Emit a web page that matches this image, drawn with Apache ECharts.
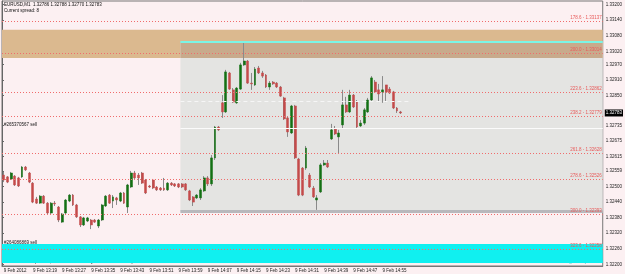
<!DOCTYPE html>
<html><head><meta charset="utf-8">
<script src="https://cdn.jsdelivr.net/npm/echarts@6/dist/echarts.min.js"></script>
<style>html,body{margin:0;padding:0;background:#fcf0f2}#c{width:625px;height:274px}</style>
</head><body><div id="c"></div>
<script>
// ---- data (EURUSD M1, 9 Feb 2012) ----
const opens  = [1.32544,1.32537,1.32529,1.32540,1.32533,1.32537,1.32575,1.32552,1.32513,1.32452,1.32436,1.32463,1.32436,1.32398,1.32436,1.32421,1.32363,1.32398,1.32444,1.32467,1.32429,1.32383,1.32352,1.32367,1.32371,1.32371,1.32348,1.32371,1.32425,1.32467,1.32444,1.32456,1.32444,1.32475,1.32421,1.32498,1.32552,1.32544,1.32552,1.32525,1.32502,1.32525,1.32498,1.32494,1.32494,1.32487,1.32513,1.32510,1.32510,1.32510,1.32510,1.32483,1.32460,1.32456,1.32456,1.32483,1.32533,1.32510,1.32610,1.32729,1.32822,1.32787,1.32937,1.32872,1.32822,1.32875,1.32968,1.32983,1.32898,1.32891,1.32956,1.32937,1.32929,1.32883,1.32902,1.32898,1.32883,1.32841,1.32764,1.32706,1.32810,1.32606,1.32571,1.32571,1.32544,1.32494,1.32448,1.32479,1.32583,1.32590,1.32683,1.32721,1.32691,1.32737,1.32814,1.32787,1.32852,1.32825,1.32733,1.32744,1.32787,1.32833,1.32902,1.32872,1.32864,1.32891,1.32875,1.32864,1.32802,1.32787];
const closes = [1.32525,1.32517,1.32552,1.32506,1.32502,1.32575,1.32564,1.32517,1.32440,1.32436,1.32463,1.32436,1.32398,1.32436,1.32433,1.32371,1.32394,1.32448,1.32467,1.32429,1.32383,1.32352,1.32379,1.32379,1.32352,1.32363,1.32371,1.32429,1.32463,1.32436,1.32460,1.32448,1.32475,1.32436,1.32506,1.32552,1.32533,1.32533,1.32513,1.32475,1.32498,1.32494,1.32487,1.32487,1.32487,1.32513,1.32506,1.32502,1.32498,1.32498,1.32487,1.32448,1.32440,1.32467,1.32487,1.32533,1.32510,1.32610,1.32729,1.32718,1.32787,1.32941,1.32875,1.32825,1.32879,1.32968,1.32983,1.32898,1.32895,1.32952,1.32937,1.32925,1.32883,1.32898,1.32895,1.32883,1.32848,1.32760,1.32710,1.32810,1.32610,1.32467,1.32467,1.32648,1.32498,1.32460,1.32456,1.32583,1.32590,1.32575,1.32718,1.32702,1.32706,1.32814,1.32787,1.32852,1.32806,1.32729,1.32744,1.32795,1.32833,1.32918,1.32864,1.32856,1.32872,1.32864,1.32860,1.32802,1.32791,1.32783];
const lows   = [1.32517,1.32513,1.32525,1.32502,1.32498,1.32533,1.32560,1.32513,1.32436,1.32433,1.32433,1.32433,1.32394,1.32394,1.32425,1.32363,1.32360,1.32394,1.32440,1.32425,1.32379,1.32344,1.32348,1.32363,1.32336,1.32360,1.32340,1.32367,1.32421,1.32433,1.32417,1.32429,1.32440,1.32433,1.32398,1.32494,1.32529,1.32506,1.32510,1.32471,1.32494,1.32490,1.32483,1.32483,1.32483,1.32483,1.32502,1.32498,1.32494,1.32494,1.32483,1.32444,1.32425,1.32452,1.32448,1.32479,1.32502,1.32502,1.32602,1.32714,1.32764,1.32783,1.32872,1.32822,1.32818,1.32872,1.32964,1.32895,1.32872,1.32887,1.32933,1.32918,1.32879,1.32872,1.32891,1.32879,1.32845,1.32756,1.32691,1.32702,1.32606,1.32463,1.32463,1.32564,1.32494,1.32456,1.32410,1.32475,1.32579,1.32571,1.32679,1.32698,1.32629,1.32725,1.32783,1.32783,1.32802,1.32725,1.32729,1.32737,1.32783,1.32829,1.32860,1.32825,1.32822,1.32825,1.32856,1.32798,1.32783,1.32779];
const highs  = [1.32556,1.32540,1.32556,1.32544,1.32537,1.32579,1.32579,1.32556,1.32517,1.32460,1.32467,1.32467,1.32440,1.32440,1.32444,1.32425,1.32398,1.32452,1.32471,1.32471,1.32433,1.32386,1.32383,1.32383,1.32375,1.32375,1.32375,1.32433,1.32467,1.32471,1.32467,1.32460,1.32479,1.32479,1.32510,1.32560,1.32560,1.32552,1.32556,1.32529,1.32506,1.32529,1.32502,1.32498,1.32533,1.32517,1.32517,1.32513,1.32513,1.32513,1.32513,1.32487,1.32463,1.32471,1.32494,1.32540,1.32540,1.32621,1.32733,1.32733,1.32852,1.32949,1.32941,1.32879,1.32883,1.32976,1.33053,1.32987,1.32937,1.32960,1.32964,1.32945,1.32933,1.32906,1.32906,1.32902,1.32887,1.32845,1.32768,1.32814,1.32814,1.32610,1.32575,1.32656,1.32552,1.32502,1.32467,1.32590,1.32602,1.32602,1.32741,1.32733,1.32718,1.32872,1.32845,1.32872,1.32856,1.32833,1.32756,1.32802,1.32841,1.32925,1.32910,1.32895,1.32925,1.32891,1.32883,1.32868,1.32806,1.32791];
const firstMinute = 13 * 60 + 11;        // first bar 13:11
const slotCount = 165;                   // visible bar slots incl. empty right margin
const xTickLabels = ["9 Feb 2012","9 Feb 13:19","9 Feb 13:27","9 Feb 13:35","9 Feb 13:43","9 Feb 13:51","9 Feb 13:59","9 Feb 14:07","9 Feb 14:15","9 Feb 14:23","9 Feb 14:31","9 Feb 14:39","9 Feb 14:47","9 Feb 14:55"];
const priceTicks = [1.33200,1.33140,1.33080,1.33020,1.32970,1.32910,1.32850,1.32735,1.32675,1.32615,1.32559,1.32500,1.32440,1.32380,1.32320,1.32260,1.32200];
const priceMin = 1.32194, priceMax = 1.33214;
const currentPrice = 1.32783;
const fibPrices = [1.33137,1.33014,1.32862,1.32770,1.32628,1.32526,1.32393,1.32258];
const fibLabels = ["178.6 - 1.33137","200.0 - 1.33014","223.6 - 1.32862","238.2 - 1.32779","261.8 - 1.32628","278.6 - 1.32526","300.0 - 1.32393","323.6 - 1.32258"];
const tanBand = [1.33103, 1.32995];
const boxStartSlot = 49;
const boxTop = 1.33056, boxBottom = 1.32404;
const whiteLine = 1.32725;
const whiteDash = 1.32829;
const cyanBand = [1.32279, 1.32206];

// ---- build ----
const categories = [];
for (let i = 0; i < slotCount; i++) {
  const m = firstMinute + i;
  categories.push(String(Math.floor(m / 60)).padStart(2, '0') + ':' + String(m % 60).padStart(2, '0'));
}
const full = opens.map((o, i) => [o, closes[i], lows[i], highs[i]]);
const bodies = opens.map((o, i) => [o, closes[i], Math.min(o, closes[i]), Math.max(o, closes[i])]);
const FS = 4.5, FF = 'Liberation Sans, Arial, sans-serif';
const seg = (x0, x1, p, lineStyle, label) => [
  {coord: [x0, p], lineStyle: lineStyle, label: label || {show: false}},
  {coord: [x1, p]}
];
const fibLines = fibPrices.map((p, i) => seg(0, slotCount, p, {type: [1, 2], color: '#f06c6c', width: 1},
  {show: true, position: 'insideEndTop', formatter: fibLabels[i], fontSize: FS, fontFamily: FF, color: '#e85a5a', distance: 1}));
const chart = echarts.init(document.getElementById('c'), null, {renderer: 'canvas'});
chart.setOption({
  backgroundColor: '#fcf0f2',
  animation: false,
  grid: {left: 2, right: 18, top: 1, bottom: 8, show: true, borderColor: '#777', borderWidth: 1, backgroundColor: 'transparent'},
  xAxis: [{
    type: 'category', data: categories, boundaryGap: true,
    axisLine: {lineStyle: {color: '#777'}},
    axisTick: {show: false},
    axisLabel: {interval: 7, align: 'left', fontSize: FS, fontFamily: FF, color: '#222', margin: 2,
      formatter: (v, idx) => xTickLabels[Math.round(idx / 8)] || ''},
    splitLine: {show: false}
  }, {
    type: 'value', min: 0, max: slotCount, show: false
  }],
  yAxis: {
    type: 'value', position: 'right', min: priceMin, max: priceMax, scale: true,
    axisLine: {show: true, lineStyle: {color: '#666'}},
    axisTick: {show: true, length: 2, customValues: priceTicks, lineStyle: {color: '#666'}},
    axisLabel: {customValues: priceTicks, fontSize: FS, fontFamily: FF, color: '#222', margin: 3,
      formatter: v => v.toFixed(5)},
    splitLine: {show: false}
  },
  series: [{
    type: 'line', xAxisIndex: 1, yAxisIndex: 0, z: 1,
    data: [[0, currentPrice]], symbol: 'none', lineStyle: {opacity: 0}, silent: true,
    markArea: {silent: true, data: [
      [{coord: [0, tanBand[0]], itemStyle: {color: '#dbb98f'}}, {coord: [slotCount, tanBand[1]]}],
      [{coord: [boxStartSlot, boxTop], itemStyle: {color: '#e4e4e2'}}, {coord: [slotCount, boxBottom]}],
      [{coord: [boxStartSlot, boxTop], itemStyle: {color: '#c8aa8c'}}, {coord: [slotCount, tanBand[1]]}],
      [{coord: [0, cyanBand[0]], itemStyle: {color: '#10f0f0'}}, {coord: [slotCount, cyanBand[1]]}]
    ]},
    markLine: {silent: true, symbol: 'none', animation: false, data: [
      seg(boxStartSlot, slotCount, whiteLine, {color: '#fbfbfb', width: 1, type: 'solid'}),
      seg(boxStartSlot, 112, whiteDash, {color: '#f6f6f6', width: 1, type: [4, 3]}),
      ...fibLines,
      seg(boxStartSlot, slotCount, boxTop, {color: '#7af5e6', width: 2, type: 'solid'}),
      seg(boxStartSlot, slotCount, boxBottom, {color: '#b8b8bc', width: 3, type: 'solid'}),
      seg(0, slotCount, currentPrice, {color: 'rgba(0,0,0,0)', width: 0},
        {show: true, position: 'end', formatter: currentPrice.toFixed(5), backgroundColor: '#000', color: '#fff',
         fontSize: FS, fontFamily: FF, padding: [1, 1], distance: 2})
    ]}
  }, {
    type: 'candlestick', name: 'wick', data: full, z: 3, barWidth: 1,
    itemStyle: {color: '#8a8a8a', color0: '#8a8a8a', borderColor: '#8a8a8a', borderColor0: '#8a8a8a', borderWidth: 1}
  }, {
    type: 'candlestick', name: 'body', data: bodies, z: 4, barWidth: 2.4,
    itemStyle: {color: '#137013', color0: '#c44a4a', borderColor: '#137013', borderColor0: '#c44a4a', borderWidth: 0.5}
  }],
  graphic: [
    {type: 'text', left: 4, top: 2, style: {text: 'EURUSD,M1  1.32786 1.32788 1.32770 1.32783', fontSize: FS, fontFamily: FF, fill: '#111'}},
    {type: 'text', left: 4, top: 8, style: {text: 'Current spread: 8', fontSize: FS, fontFamily: FF, fill: '#111'}},
    {type: 'text', left: 4, top: 122, style: {text: '#265370567 sell', fontSize: FS, fontFamily: FF, fill: '#111'}},
    {type: 'text', left: 4, top: 240, style: {text: '#264086869 sell', fontSize: FS, fontFamily: FF, fill: '#111'}},
    {type: 'text', left: 4, top: 259, style: {text: 'MetaTrader - Alpari UK, © 2001-2011 MetaQuotes Software Corp.', fontSize: FS, fontFamily: FF, fill: '#111'}},
    {type: 'text', right: 22, top: 259, style: {text: 'sml-GUBreakout_V0.4 by andrew', fontSize: FS, fontFamily: FF, fill: '#40c0c0'}},
    {type: 'text', left: 413, top: 99, style: {text: '<0:50', fontSize: 7, fontFamily: FF, fill: '#444'}}
  ]
});
</script></body></html>
